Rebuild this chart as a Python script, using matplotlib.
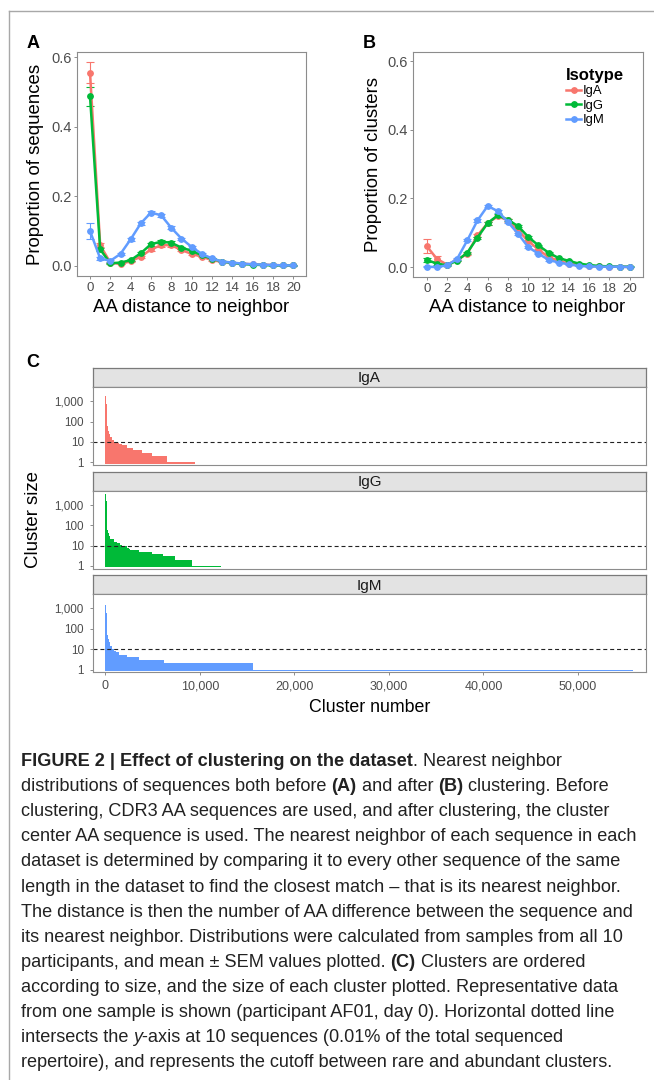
import matplotlib
matplotlib.use('Agg')
import matplotlib.pyplot as plt
from matplotlib.lines import Line2D
from matplotlib.ticker import FixedLocator, NullLocator

plt.rcParams['font.family'] = ['Liberation Sans', 'DejaVu Sans']

W, H = 654, 1080

# ---- panel A / B data: nearest-neighbour distance distributions (mean, SEM)
distance = list(range(21))
isotypes = ['IgA', 'IgG', 'IgM']
colors = ['#F8766D', '#00BA38', '#619CFF']

seq_iga = [0.556, 0.059, 0.009, 0.005, 0.013, 0.026, 0.047, 0.059, 0.059, 0.045, 0.034,
           0.026, 0.016, 0.011, 0.008, 0.006, 0.004, 0.003, 0.002, 0.001, 0.001]
seq_igg = [0.488, 0.047, 0.007, 0.009, 0.016, 0.036, 0.062, 0.069, 0.066, 0.052, 0.043,
           0.030, 0.020, 0.012, 0.008, 0.005, 0.003, 0.002, 0.001, 0.001, 0.001]
seq_igm = [0.100, 0.021, 0.014, 0.034, 0.076, 0.122, 0.153, 0.145, 0.109, 0.078, 0.054,
           0.034, 0.021, 0.012, 0.009, 0.006, 0.004, 0.003, 0.002, 0.001, 0.001]
seq_iga_sem = [0.031, 0.005, 0.002, 0.001, 0.002, 0.003, 0.004, 0.004, 0.004, 0.003, 0.003,
               0.002, 0.002, 0.001, 0.001, 0.001, 0.001, 0.001, 0.001, 0.001, 0.001]
seq_igg_sem = [0.027, 0.004, 0.001, 0.001, 0.002, 0.003, 0.004, 0.004, 0.004, 0.003, 0.003,
               0.002, 0.002, 0.001, 0.001, 0.001, 0.001, 0.001, 0.001, 0.001, 0.001]
seq_igm_sem = [0.023, 0.005, 0.002, 0.003, 0.004, 0.005, 0.005, 0.004, 0.004, 0.003, 0.003,
               0.002, 0.002, 0.001, 0.001, 0.001, 0.001, 0.001, 0.001, 0.001, 0.001]

clu_iga = [0.061, 0.024, 0.007, 0.021, 0.039, 0.092, 0.128, 0.148, 0.136, 0.107, 0.076,
           0.051, 0.029, 0.018, 0.010, 0.006, 0.003, 0.002, 0.001, 0.001, 0.000]
clu_igg = [0.021, 0.010, 0.005, 0.019, 0.042, 0.086, 0.128, 0.151, 0.138, 0.119, 0.088,
           0.063, 0.042, 0.026, 0.018, 0.010, 0.006, 0.003, 0.002, 0.001, 0.001]
clu_igm = [0.001, 0.000, 0.005, 0.024, 0.078, 0.136, 0.178, 0.163, 0.131, 0.097, 0.058,
           0.039, 0.021, 0.013, 0.008, 0.003, 0.002, 0.001, 0.001, 0.001, 0.000]
clu_iga_sem = [0.021, 0.007, 0.002, 0.003, 0.003, 0.004, 0.004, 0.004, 0.004, 0.003, 0.003,
               0.002, 0.002, 0.001, 0.001, 0.001, 0.001, 0.001, 0.001, 0.001, 0.001]
clu_igg_sem = [0.006, 0.003, 0.001, 0.002, 0.003, 0.003, 0.004, 0.004, 0.003, 0.003, 0.003,
               0.002, 0.002, 0.001, 0.001, 0.001, 0.001, 0.001, 0.001, 0.001, 0.001]
clu_igm_sem = [0.001, 0.001, 0.001, 0.002, 0.003, 0.004, 0.004, 0.004, 0.003, 0.003, 0.003,
               0.002, 0.002, 0.001, 0.001, 0.001, 0.001, 0.001, 0.001, 0.001, 0.001]

# ---- panel C data: cluster size by cluster rank (step breakpoints)
iga_rank = [0, 70, 140, 210, 280, 350, 530, 700, 880, 1100, 1400, 1800, 2300, 2970, 3890, 4950, 6530, 9530]
iga_size = [1700, 700, 180, 60, 35, 25, 17, 12, 10, 9, 8, 7, 5, 4, 3, 2, 1, 1]
igg_rank = [0, 70, 140, 210, 280, 350, 530, 880, 1200, 1590, 1770, 2000, 2300, 2500, 2650, 3530, 4940,
            6110, 7410, 9180, 12250]
igg_size = [3300, 1500, 300, 60, 40, 30, 20, 15, 13, 11, 10, 9, 8, 7, 6, 5, 4, 3, 2, 1, 1]
igm_rank = [0, 70, 140, 210, 280, 350, 530, 700, 880, 1100, 1410, 2300, 3530, 6180, 15640, 55800]
igm_size = [1400, 600, 150, 50, 30, 22, 15, 10, 8, 7, 5, 4, 3, 2, 1, 1]

AX_GREY = '#8c8c8c'
TICK_TXT = '#4d4d4d'

fig = plt.figure(figsize=(W / 100, H / 100), dpi=100)


def px_axes(l, t, r, b):
    return fig.add_axes([l / W, 1 - b / H, (r - l) / W, (b - t) / H])


def fig_text(x, y, s, **kw):
    return fig.text(x / W, 1 - y / H, s, **kw)


def style_box(ax):
    for sp in ax.spines.values():
        sp.set_color(AX_GREY)
        sp.set_linewidth(0.8)


def line_panel(ax, series, sems, xlim, ylim):
    for vals, err, c in zip(series, sems, colors):
        ax.errorbar(distance, vals, yerr=err, color=c, lw=1.8, marker='o', ms=3.9,
                    elinewidth=0.8, capsize=2.6, capthick=0.8)
    ax.set_xlim(*xlim)
    ax.set_ylim(*ylim)
    ax.set_xticks(range(0, 21, 2))
    ax.set_yticks([0, 0.2, 0.4, 0.6])
    ax.set_yticklabels(['0.0', '0.2', '0.4', '0.6'])
    style_box(ax)
    ax.tick_params(length=2.4, width=0.7, color=AX_GREY, labelcolor=TICK_TXT)
    ax.tick_params(axis='x', labelsize=9.6, pad=2.2)
    ax.tick_params(axis='y', labelsize=10.5, pad=1.4)


# ---- panel A
axA = px_axes(77, 52, 306, 276)
line_panel(axA, [seq_iga, seq_igg, seq_igm], [seq_iga_sem, seq_igg_sem, seq_igm_sem],
           (-1.28, 21.25), (-0.0296, 0.615))
fig_text(36, 164, 'Proportion of sequences', rotation=90, ha='center', va='center', fontsize=13.4)
fig_text(191.5, 312, 'AA distance to neighbor', ha='center', va='baseline', fontsize=13.4)
fig_text(27, 48, 'A', fontweight='bold', fontsize=13, va='baseline')

# ---- panel B
axB = px_axes(413, 52, 643, 277)
line_panel(axB, [clu_iga, clu_igg, clu_igm], [clu_iga_sem, clu_igg_sem, clu_igm_sem],
           (-1.35, 21.3), (-0.029, 0.627))
fig_text(373, 164, 'Proportion of clusters', rotation=90, ha='center', va='center', fontsize=13.4)
fig_text(527, 312, 'AA distance to neighbor', ha='center', va='baseline', fontsize=13.4)
fig_text(363, 48, 'B', fontweight='bold', fontsize=13, va='baseline')

handles = [Line2D([], [], color=c, marker='o', ms=3.9, lw=1.8) for c in colors]
axB.legend(handles, isotypes, title='Isotype', loc='upper left',
           bbox_to_anchor=(566 / W, 1 - 68 / H), bbox_transform=fig.transFigure,
           frameon=False, borderpad=0, borderaxespad=0, handlelength=1.15,
           handletextpad=0.15, labelspacing=0.17, alignment='left',
           prop={'size': 9.4}, title_fontproperties={'weight': 'bold', 'size': 12})

# ---- panel C: faceted cluster-size curves
fig_text(26, 367, 'C', fontweight='bold', fontsize=13, va='baseline')
c_rows = [(iga_rank, iga_size), (igg_rank, igg_size), (igm_rank, igm_size)]
top = 368.0
strip_h, panel_h, gap = 19.0, 78.0, 6.6
for i, ((rank, size), name, c) in enumerate(zip(c_rows, isotypes, colors)):
    sax = px_axes(93, top, 646, top + strip_h)
    sax.set_facecolor('#e3e3e3')
    sax.set_xticks([])
    sax.set_yticks([])
    for sp in sax.spines.values():
        sp.set_color('#7a7a7a')
        sp.set_linewidth(0.9)
    sax.text(0.5, 0.45, name, transform=sax.transAxes, ha='center', va='center',
             fontsize=11, color='#1a1a1a')
    ax = px_axes(93, top + strip_h, 646, top + strip_h + panel_h)
    ax.fill_between(rank, 0.85, size, step='post', color=c, lw=0)
    ax.axhline(10, color='#222222', lw=0.8, ls=(0, (3.6, 2.6)))
    ax.set_yscale('log')
    ax.set_xlim(-1300, 57200)
    ax.set_ylim(10 ** -0.13, 10 ** 3.69)
    ax.yaxis.set_major_locator(FixedLocator([1, 10, 100, 1000]))
    ax.yaxis.set_minor_locator(NullLocator())
    ax.set_yticklabels(['1', '10', '100', '1,000'])
    ax.set_xticks([0, 10000, 20000, 30000, 40000, 50000])
    style_box(ax)
    ax.tick_params(length=2.2, width=0.7, color=AX_GREY, labelcolor=TICK_TXT)
    ax.tick_params(axis='y', labelsize=8.4, pad=4.5)
    if i < 2:
        ax.tick_params(axis='x', labelbottom=False, length=0)
    else:
        ax.set_xticklabels(['0', '10,000', '20,000', '30,000', '40,000', '50,000'])
        ax.tick_params(axis='x', labelsize=9, pad=3.6)
    top += strip_h + panel_h + gap

fig_text(34, 520, 'Cluster size', rotation=90, ha='center', va='center', fontsize=13.4)
fig_text(369.5, 712, 'Cluster number', ha='center', va='baseline', fontsize=12.8)

# ---- frame lines of the figure box
fig.add_artist(Line2D([9 / W, 1], [1 - 11 / H, 1 - 11 / H], transform=fig.transFigure,
                      color='#a8a8a8', lw=1.0))
fig.add_artist(Line2D([9 / W, 9 / W], [1 - 11 / H, 0], transform=fig.transFigure,
                      color='#a8a8a8', lw=1.0))

# ---- caption
caption = [
    [("FIGURE 2 | Effect of clustering on the dataset", 'bold', 'normal'), (". Nearest neighbor", 'normal', 'normal')],
    [("distributions of sequences both before ", 'normal', 'normal'), ("(A)", 'bold', 'normal'),
     (" and after ", 'normal', 'normal'), ("(B)", 'bold', 'normal'), (" clustering. Before", 'normal', 'normal')],
    [("clustering, CDR3 AA sequences are used, and after clustering, the cluster", 'normal', 'normal')],
    [("center AA sequence is used. The nearest neighbor of each sequence in each", 'normal', 'normal')],
    [("dataset is determined by comparing it to every other sequence of the same", 'normal', 'normal')],
    [("length in the dataset to find the closest match \u2013 that is its nearest neighbor.", 'normal', 'normal')],
    [("The distance is then the number of AA difference between the sequence and", 'normal', 'normal')],
    [("its nearest neighbor. Distributions were calculated from samples from all 10", 'normal', 'normal')],
    [("participants, and mean \u00b1 SEM values plotted. ", 'normal', 'normal'), ("(C)", 'bold', 'normal'),
     (" Clusters are ordered", 'normal', 'normal')],
    [("according to size, and the size of each cluster plotted. Representative data", 'normal', 'normal')],
    [("from one sample is shown (participant AF01, day 0). Horizontal dotted line", 'normal', 'normal')],
    [("intersects the ", 'normal', 'normal'), ("y", 'normal', 'italic'),
     ("-axis at 10 sequences (0.01% of the total sequenced", 'normal', 'normal')],
    [("repertoire), and represents the cutoff between rare and abundant clusters.", 'normal', 'normal')],
]

renderer = fig.canvas.get_renderer()


def advance(s, **kw):
    t1 = fig.text(0, 0, 'x' + s + 'x', **kw)
    t2 = fig.text(0, 0, 'xx', **kw)
    w = t1.get_window_extent(renderer).width - t2.get_window_extent(renderer).width
    t1.remove()
    t2.remove()
    return w


# fit font size so the widest reference line spans the same width
ref_w = advance(caption[3][0][0], fontsize=10)
cap_size = 10 * 619 / ref_w

x_left, base0, step = 21, 766, 25.1
for li, segs in enumerate(caption):
    x = x_left
    y = base0 + li * step
    for s, wt, st in segs:
        kw = dict(fontsize=cap_size, fontweight=wt, fontstyle=st)
        lead = len(s) - len(s.lstrip())
        x0 = x + (advance(' ' * lead, **kw) if lead else 0)
        fig_text(x0, y, s.strip(), va='baseline', ha='left', color='#222222', **kw)
        x += advance(s, **kw)

fig.savefig('out.png', dpi=100)
